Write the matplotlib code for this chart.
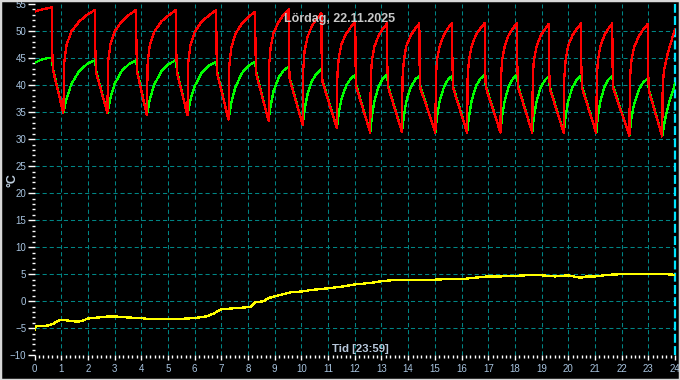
import numpy as np
import matplotlib
matplotlib.use("Agg")
from matplotlib import pyplot as plt
from matplotlib.patches import Rectangle

# supply temperature (red), hours / degC
red_pts = [
    (0.00, 53.6), (0.30, 54.0), (0.65, 54.4), (0.66, 47.1), (0.69, 42.8),
    (1.08, 34.8), (1.12, 44.4), (1.20, 47.4), (1.38, 49.9), (1.68, 51.8), (1.97, 53.0), (2.27, 53.9), (2.28, 46.6), (2.31, 42.3),
    (2.73, 34.8), (2.76, 44.4), (2.84, 47.4), (3.00, 49.9), (3.27, 51.8), (3.54, 53.0), (3.81, 53.9), (3.82, 46.6), (3.85, 42.3),
    (4.21, 34.4), (4.24, 44.2), (4.32, 47.3), (4.48, 49.8), (4.76, 51.8), (5.03, 52.9), (5.30, 53.9), (5.31, 46.6), (5.34, 42.3),
    (5.73, 34.4), (5.76, 44.2), (5.84, 47.3), (6.00, 49.8), (6.27, 51.8), (6.54, 52.9), (6.81, 53.9), (6.82, 46.3), (6.85, 42.0),
    (7.27, 33.6), (7.30, 43.6), (7.37, 46.8), (7.52, 49.4), (7.77, 51.4), (8.02, 52.6), (8.27, 53.6), (8.28, 46.3), (8.31, 42.0),
    (8.77, 33.4), (8.79, 43.7), (8.85, 47.0), (8.96, 49.7), (9.15, 51.7), (9.33, 53.0), (9.52, 54.0), (9.53, 45.4), (9.56, 41.1),
    (10.05, 32.6), (10.07, 42.9), (10.12, 46.3), (10.23, 48.9), (10.40, 51.0), (10.58, 52.3), (10.75, 53.3), (10.76, 44.9), (10.79, 40.6),
    (11.33, 32.0), (11.35, 41.9), (11.40, 45.0), (11.50, 47.6), (11.68, 49.5), (11.85, 50.7), (12.02, 51.7), (12.03, 43.9), (12.06, 39.6),
    (12.58, 31.2), (12.60, 41.3), (12.64, 44.5), (12.74, 47.2), (12.90, 49.2), (13.05, 50.4), (13.21, 51.4), (13.22, 43.9), (13.25, 39.6),
    (13.77, 31.3), (13.79, 41.4), (13.84, 44.6), (13.93, 47.2), (14.10, 49.2), (14.26, 50.4), (14.42, 51.4), (14.43, 43.7), (14.46, 39.4),
    (15.02, 31.2), (15.04, 41.4), (15.08, 44.6), (15.18, 47.2), (15.34, 49.3), (15.49, 50.5), (15.65, 51.5), (15.66, 43.7), (15.69, 39.4),
    (16.21, 31.2), (16.23, 41.4), (16.28, 44.6), (16.38, 47.2), (16.54, 49.3), (16.71, 50.5), (16.87, 51.5), (16.88, 43.9), (16.91, 39.6),
    (17.46, 31.2), (17.48, 41.4), (17.52, 44.6), (17.62, 47.2), (17.77, 49.3), (17.93, 50.5), (18.08, 51.5), (18.09, 43.9), (18.12, 39.6),
    (18.65, 31.2), (18.67, 41.3), (18.71, 44.5), (18.81, 47.1), (18.96, 49.1), (19.12, 50.3), (19.27, 51.3), (19.28, 43.6), (19.31, 39.3),
    (19.83, 31.2), (19.85, 41.3), (19.90, 44.5), (19.99, 47.2), (20.16, 49.2), (20.32, 50.4), (20.48, 51.4), (20.49, 43.7), (20.52, 39.4),
    (21.05, 31.1), (21.07, 41.3), (21.11, 44.5), (21.20, 47.1), (21.35, 49.2), (21.50, 50.4), (21.65, 51.4), (21.66, 43.7), (21.69, 39.4),
    (22.29, 30.6), (22.31, 41.0), (22.36, 44.3), (22.46, 46.9), (22.64, 49.0), (22.81, 50.3), (22.98, 51.3), (22.99, 43.2), (23.02, 38.9),
    (23.52, 30.5), (23.54, 40.4), (23.60, 43.0), (23.71, 45.5), (23.83, 47.6), (24.00, 50.3),
]

# return temperature (green)
green_pts = [
    (0.00, 44.1), (0.30, 44.8), (0.65, 45.1), (0.69, 43.1),
    (1.08, 34.8), (1.20, 37.5), (1.38, 40.2), (1.68, 42.6), (1.97, 43.9), (2.27, 44.6), (2.31, 42.6),
    (2.73, 34.8), (2.84, 37.5), (3.00, 40.2), (3.27, 42.6), (3.54, 43.9), (3.81, 44.6), (3.85, 42.6),
    (4.21, 34.4), (4.32, 37.3), (4.48, 40.0), (4.76, 42.6), (5.03, 43.9), (5.30, 44.6), (5.34, 42.6),
    (5.73, 34.4), (5.84, 37.2), (6.00, 39.8), (6.27, 42.3), (6.54, 43.6), (6.81, 44.3), (6.85, 42.3),
    (7.27, 33.6), (7.37, 36.6), (7.52, 39.5), (7.77, 42.2), (8.02, 43.6), (8.27, 44.3), (8.31, 42.3),
    (8.77, 33.4), (8.85, 36.2), (8.96, 38.9), (9.15, 41.4), (9.33, 42.7), (9.52, 43.4), (9.56, 41.4),
    (10.05, 32.6), (10.12, 35.5), (10.23, 38.3), (10.40, 40.8), (10.58, 42.2), (10.75, 42.9), (10.79, 40.9),
    (11.33, 32.0), (11.40, 34.8), (11.50, 37.4), (11.68, 39.9), (11.85, 41.2), (12.02, 41.9), (12.06, 39.9),
    (12.58, 31.2), (12.64, 34.2), (12.74, 37.1), (12.90, 39.8), (13.05, 41.2), (13.21, 41.9), (13.25, 39.9),
    (13.77, 31.3), (13.84, 34.2), (13.93, 37.0), (14.10, 39.6), (14.26, 41.0), (14.42, 41.7), (14.46, 39.7),
    (15.02, 31.2), (15.08, 34.1), (15.18, 37.0), (15.34, 39.6), (15.49, 41.0), (15.65, 41.7), (15.69, 39.7),
    (16.21, 31.2), (16.28, 34.2), (16.38, 37.1), (16.54, 39.8), (16.71, 41.2), (16.87, 41.9), (16.91, 39.9),
    (17.46, 31.2), (17.52, 34.2), (17.62, 37.1), (17.77, 39.8), (17.93, 41.2), (18.08, 41.9), (18.12, 39.9),
    (18.65, 31.2), (18.71, 34.1), (18.81, 36.9), (18.96, 39.5), (19.12, 40.9), (19.27, 41.6), (19.31, 39.6),
    (19.83, 31.2), (19.90, 34.1), (19.99, 37.0), (20.16, 39.6), (20.32, 41.0), (20.48, 41.7), (20.52, 39.7),
    (21.05, 31.1), (21.11, 34.1), (21.20, 36.9), (21.35, 39.6), (21.50, 41.0), (21.65, 41.7), (21.69, 39.7),
    (22.29, 30.6), (22.36, 33.6), (22.46, 36.4), (22.64, 39.1), (22.81, 40.5), (22.98, 41.2), (23.02, 39.2),
    (23.52, 30.5), (23.62, 33.5), (23.75, 36.3), (23.90, 38.6), (24.00, 40.3),
]

# outdoor temperature (yellow)
out_t = [0.0, 0.05, 0.5, 0.7, 0.85, 1.0, 1.3, 1.6, 1.8, 2.0, 2.4, 2.8, 3.0, 3.5, 4.0,
         4.3, 5.0, 5.7, 6.0, 6.45, 6.7, 7.0, 7.45, 8.0, 8.1, 8.27, 8.58, 8.77, 9.0,
         9.33, 9.65, 10.0, 10.4, 11.0, 11.5, 12.0, 12.6, 13.0, 13.4, 14.0, 14.5, 15.0,
         15.5, 16.0, 16.5, 17.0, 17.5, 18.0, 18.6, 19.0, 19.5, 20.0, 20.45, 20.7, 21.0,
         21.5, 22.0, 22.55, 23.0, 23.5, 24.0]
out_v = [-5.3, -4.6, -4.5, -4.2, -3.7, -3.4, -3.6, -3.8, -3.6, -3.2, -3.0, -2.8, -2.8, -3.0, -3.1,
         -3.3, -3.3, -3.2, -3.1, -2.8, -2.3, -1.5, -1.3, -1.1, -1.0, -0.2, 0.0, 0.6, 0.9,
         1.3, 1.7, 1.8, 2.1, 2.4, 2.7, 3.1, 3.4, 3.7, 3.9, 3.9, 3.9, 4.0,
         4.1, 4.1, 4.35, 4.6, 4.6, 4.7, 4.85, 4.8, 4.6, 4.8, 4.35, 4.6, 4.6,
         4.9, 5.0, 5.05, 5.05, 5.05, 4.9]

title = "Lördag, 22.11.2025"
xlabel = "Tid [23:59]"
ylabel = "°C"

grid_col = "#008585"
lbl_col = "#a8c4e0"
W, H = 680, 380

fig = plt.figure(figsize=(6.8, 3.8), dpi=100, facecolor="black")
ax = fig.add_axes([34.5 / W, 1 - 355.3 / H, (675 - 34.5) / W, (355.3 - 4) / H])
ax.set_facecolor("black")
ax.set_xlim(0, 24)
ax.set_ylim(-10, 55)

for h in range(1, 24):
    ax.axvline(h, color=grid_col, lw=0.75, ls=(0, (4, 2.8)), zorder=1)
for v in range(-5, 55, 5):
    ax.axhline(v, color=grid_col, lw=0.75, ls=(0, (4, 2.8)), zorder=1)
ax.axvline(24, color="#00e5ff", lw=1.6, ls=(0, (4, 1.5)), clip_on=False, zorder=3)

rt, rv = zip(*red_pts)
gt, gv = zip(*green_pts)
ax.plot(out_t, out_v, color="#ffff00", lw=0.9, antialiased=False, zorder=4)
ax.plot(gt, gv, color="#00ff00", lw=0.9, antialiased=False, zorder=5)
ax.plot(rt, rv, color="#ff0000", lw=0.9, antialiased=False, zorder=6)

ax.set_xticks(range(25))
ax.set_xticks(np.arange(0, 24.01, 1 / 6), minor=True)
ax.set_yticks(range(-10, 56, 5))
ax.set_yticks(range(-10, 56), minor=True)
ax.tick_params(axis="both", which="both", colors="white", labelcolor=lbl_col,
               direction="out", width=1, labelsize=7)
ax.tick_params(axis="y", which="major", length=5, pad=1)
ax.tick_params(axis="y", which="minor", length=2.5)
ax.tick_params(axis="x", which="major", length=3.8, pad=2.5)
ax.tick_params(axis="x", which="minor", length=2.5)
for s in ax.spines.values():
    s.set_visible(False)
for lab in ax.get_xticklabels() + ax.get_yticklabels():
    lab.set_family("Liberation Sans")

fig.text(340 / W, 1 - 19 / H, title, ha="center", va="center", color="#c8c8c8",
         fontsize=9, fontweight="bold", family="Liberation Sans")
fig.text(360 / W, 1 - 349.5 / H, xlabel, ha="center", va="center", color="#b8c8dc",
         fontsize=8.2, fontweight="bold", family="Liberation Sans")
fig.text(12 / W, 1 - 180 / H, ylabel, ha="center", va="center", rotation=90,
         color="#c0d0e0", fontsize=9, fontweight="bold", family="Liberation Sans")

fig.patches.append(Rectangle((0, 0), 1, 1, transform=fig.transFigure, fill=False,
                             edgecolor="#d8d8d8", lw=2.5))

fig.savefig("out.png", dpi=100, facecolor="black")
